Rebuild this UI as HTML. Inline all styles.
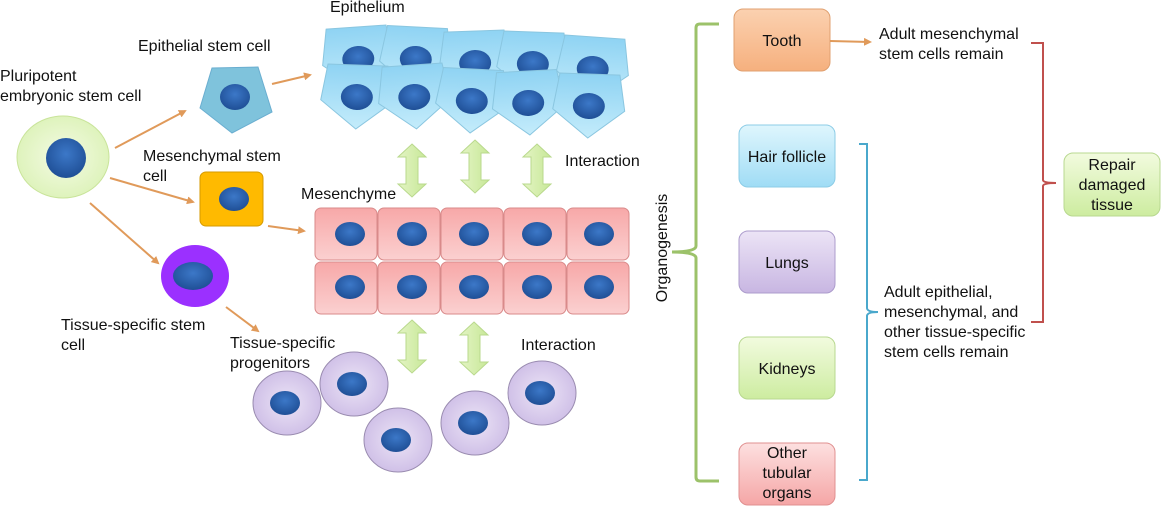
<!DOCTYPE html>
<html><head><meta charset="utf-8"><style>
html,body{margin:0;padding:0;background:#fff;}
svg{display:block;font-family:"Liberation Sans",Arial,sans-serif;}
text{font-size:16px;fill:#111;}
</style></head><body>
<svg width="1166" height="508" viewBox="0 0 1166 508" xmlns="http://www.w3.org/2000/svg">
<defs>
<radialGradient id="nuc" cx="50%" cy="40%" r="60%"><stop offset="0" stop-color="#3c78c8"/><stop offset="1" stop-color="#1f4f96"/></radialGradient>
<linearGradient id="epi" x1="0" y1="0" x2="0" y2="1"><stop offset="0" stop-color="#8fd3f3"/><stop offset="1" stop-color="#c4ecfb"/></linearGradient>
<linearGradient id="mes" x1="0" y1="0" x2="0" y2="1"><stop offset="0" stop-color="#f7a8a8"/><stop offset="1" stop-color="#fbd0d0"/></linearGradient>
<radialGradient id="prog" cx="50%" cy="50%" r="55%"><stop offset="0" stop-color="#ece4f6"/><stop offset="1" stop-color="#cdbde6"/></radialGradient>
<radialGradient id="plu" cx="50%" cy="50%" r="55%"><stop offset="0" stop-color="#f4fbe4"/><stop offset="1" stop-color="#dcf2b8"/></radialGradient>
<linearGradient id="grn" x1="0" y1="0" x2="0" y2="1"><stop offset="0" stop-color="#f2fbdf"/><stop offset="1" stop-color="#cdeca0"/></linearGradient>
<linearGradient id="tooth" x1="0" y1="0" x2="0" y2="1"><stop offset="0" stop-color="#fbd1b0"/><stop offset="1" stop-color="#f6b07e"/></linearGradient>
<linearGradient id="hair" x1="0" y1="0" x2="0" y2="1"><stop offset="0" stop-color="#dff6fd"/><stop offset="1" stop-color="#9fdcf5"/></linearGradient>
<linearGradient id="lung" x1="0" y1="0" x2="0" y2="1"><stop offset="0" stop-color="#ece4f6"/><stop offset="1" stop-color="#c8b6e2"/></linearGradient>
<linearGradient id="other" x1="0" y1="0" x2="0" y2="1"><stop offset="0" stop-color="#fde0e0"/><stop offset="1" stop-color="#f5a6a6"/></linearGradient>
<linearGradient id="arr" x1="0" y1="0" x2="1" y2="0"><stop offset="0" stop-color="#e3f4c4"/><stop offset="1" stop-color="#c8e898"/></linearGradient>
<marker id="ah" markerWidth="8" markerHeight="8" refX="6" refY="4" orient="auto" markerUnits="userSpaceOnUse"><path d="M0,0 L8,4 L0,8 Z" fill="#e09a5a"/></marker>
<g id="pent"><path d="M-30,-28 L30,-28 L36,8 L0,36 L-36,8 Z" fill="url(#epi)" stroke="#8ac6e0" stroke-width="1"/><ellipse cx="0" cy="4" rx="16" ry="13" fill="url(#nuc)"/></g>
<g id="dbl"><path d="M0,0 L14,13 L6,13 L6,40 L14,40 L0,53 L-14,40 L-6,40 L-6,13 L-14,13 Z" fill="url(#arr)" stroke="#b9d98c" stroke-width="1"/></g>
<g id="pc"><ellipse cx="0" cy="0" rx="34" ry="32" fill="url(#prog)" stroke="#9a8cb0" stroke-width="1"/><ellipse cx="-2" cy="0" rx="15" ry="12" fill="url(#nuc)"/></g>
</defs>

<ellipse cx="63" cy="157" rx="46" ry="41" fill="url(#plu)" stroke="#c9e49a"/>
<circle cx="66" cy="158" r="20" fill="url(#nuc)"/>
<path d="M200,108 L212,68 L258,67 L272,112 L232,133 Z" fill="#7fc3dc" stroke="#6aaed0"/>
<ellipse cx="235" cy="97" rx="15" ry="13" fill="url(#nuc)"/>
<rect x="200" y="172" width="63" height="54" rx="6" fill="#ffba00" stroke="#d69a00"/>
<ellipse cx="234" cy="199" rx="15" ry="12" fill="url(#nuc)"/>
<ellipse cx="195" cy="276" rx="34" ry="31" fill="#9b30ff"/>
<ellipse cx="193" cy="276" rx="20" ry="14" fill="url(#nuc)"/>

<g stroke="#e09a5a" stroke-width="2" fill="none" marker-end="url(#ah)">
<line x1="115" y1="148" x2="185" y2="111"/>
<line x1="110" y1="178" x2="193" y2="202"/>
<line x1="90" y1="203" x2="158" y2="263"/>
<line x1="272" y1="84" x2="310" y2="75"/>
<line x1="268" y1="226" x2="304" y2="231"/>
<line x1="226" y1="307" x2="258" y2="331"/>
</g>

<use href="#pent" transform="translate(358,55) rotate(-4)"/>
<use href="#pent" transform="translate(416,55) rotate(3)"/>
<use href="#pent" transform="translate(475,59) rotate(-2)"/>
<use href="#pent" transform="translate(533,60) rotate(2)"/>
<use href="#pent" transform="translate(593,65) rotate(4)"/>
<use href="#pent" transform="translate(357,93) rotate(2)"/>
<use href="#pent" transform="translate(414,93) rotate(-4)"/>
<use href="#pent" transform="translate(472,97) rotate(3)"/>
<use href="#pent" transform="translate(528,99) rotate(-3)"/>
<use href="#pent" transform="translate(589,102) rotate(2)"/>

<use href="#dbl" transform="translate(412,144)"/>
<use href="#dbl" transform="translate(475,140)"/>
<use href="#dbl" transform="translate(537,144)"/>
<use href="#dbl" transform="translate(412,320)"/>
<use href="#dbl" transform="translate(474,322)"/>

<g stroke="#d98a8a" stroke-width="1" fill="url(#mes)">
<rect x="315" y="208" width="62" height="52" rx="6"/><rect x="378" y="208" width="62" height="52" rx="6"/><rect x="441" y="208" width="62" height="52" rx="6"/><rect x="504" y="208" width="62" height="52" rx="6"/><rect x="567" y="208" width="62" height="52" rx="6"/>
<rect x="315" y="262" width="62" height="52" rx="6"/><rect x="378" y="262" width="62" height="52" rx="6"/><rect x="441" y="262" width="62" height="52" rx="6"/><rect x="504" y="262" width="62" height="52" rx="6"/><rect x="567" y="262" width="62" height="52" rx="6"/>
</g>
<g fill="url(#nuc)">
<ellipse cx="350" cy="234" rx="15" ry="12"/><ellipse cx="412" cy="234" rx="15" ry="12"/><ellipse cx="474" cy="234" rx="15" ry="12"/><ellipse cx="537" cy="234" rx="15" ry="12"/><ellipse cx="599" cy="234" rx="15" ry="12"/>
<ellipse cx="350" cy="287" rx="15" ry="12"/><ellipse cx="412" cy="287" rx="15" ry="12"/><ellipse cx="474" cy="287" rx="15" ry="12"/><ellipse cx="537" cy="287" rx="15" ry="12"/><ellipse cx="599" cy="287" rx="15" ry="12"/>
</g>

<use href="#pc" transform="translate(287,403)"/>
<use href="#pc" transform="translate(354,384)"/>
<use href="#pc" transform="translate(398,440)"/>
<use href="#pc" transform="translate(475,423)"/>
<use href="#pc" transform="translate(542,393)"/>

<text x="0" y="81">Pluripotent</text>
<text x="0" y="101">embryonic stem cell</text>
<text x="138" y="51">Epithelial stem cell</text>
<text x="330" y="12">Epithelium</text>
<text x="143" y="161">Mesenchymal stem</text>
<text x="143" y="181">cell</text>
<text x="301" y="199">Mesenchyme</text>
<text x="565" y="166">Interaction</text>
<text x="61" y="330">Tissue-specific stem</text>
<text x="61" y="350">cell</text>
<text x="230" y="348">Tissue-specific</text>
<text x="230" y="368">progenitors</text>
<text x="521" y="350">Interaction</text>

<path d="M719,24 L700,24 Q696,24 696,28 L696,246 Q696,252 672,252 Q696,252 696,258 L696,477 Q696,481 700,481 L719,481" fill="none" stroke="#9cc26a" stroke-width="3"/>
<text transform="translate(667,248) rotate(-90)" text-anchor="middle">Organogenesis</text>

<g stroke-width="1">
<rect x="734" y="9" width="96" height="62" rx="9" fill="url(#tooth)" stroke="#e0a070"/>
<rect x="739" y="125" width="96" height="62" rx="9" fill="url(#hair)" stroke="#8ccce6"/>
<rect x="739" y="231" width="96" height="62" rx="9" fill="url(#lung)" stroke="#ac9ccc"/>
<rect x="739" y="337" width="96" height="62" rx="9" fill="url(#grn)" stroke="#b8d890"/>
<rect x="739" y="443" width="96" height="62" rx="9" fill="url(#other)" stroke="#e09090"/>
<rect x="1064" y="153" width="96" height="63" rx="9" fill="url(#grn)" stroke="#b8d890"/>
</g>
<g text-anchor="middle">
<text x="782" y="46">Tooth</text>
<text x="787" y="162">Hair follicle</text>
<text x="787" y="268">Lungs</text>
<text x="787" y="374">Kidneys</text>
<text x="787" y="458">Other</text>
<text x="787" y="478">tubular</text>
<text x="787" y="498">organs</text>
<text x="1112" y="170">Repair</text>
<text x="1112" y="190">damaged</text>
<text x="1112" y="210">tissue</text>
</g>
<line x1="830" y1="41" x2="870" y2="42" stroke="#e09a5a" stroke-width="2" marker-end="url(#ah)"/>
<text x="879" y="39">Adult mesenchymal</text>
<text x="879" y="59">stem cells remain</text>

<path d="M859,144 L867,144 L867,308 Q867,312 878,312 Q867,312 867,316 L867,480 L859,480" fill="none" stroke="#4aa8cc" stroke-width="2"/>
<text x="884" y="297">Adult epithelial,</text>
<text x="884" y="317">mesenchymal, and</text>
<text x="884" y="337">other tissue-specific</text>
<text x="884" y="357">stem cells remain</text>

<path d="M1031,43 L1043,43 L1043,180 Q1043,183 1056,183 Q1043,183 1043,186 L1043,322 L1031,322" fill="none" stroke="#c0504d" stroke-width="2"/>
</svg>
</body></html>
